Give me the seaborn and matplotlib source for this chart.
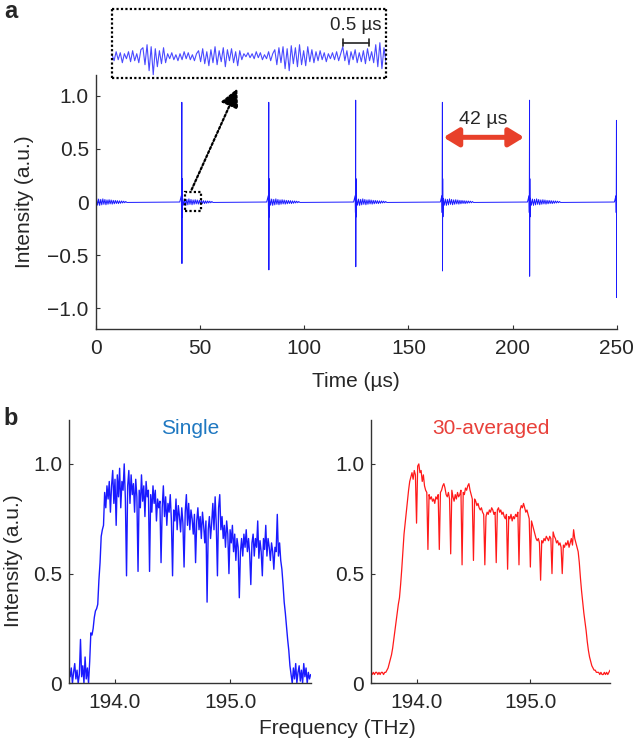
import numpy as np
import pandas as pd
import matplotlib
matplotlib.use("Agg")
import matplotlib.pyplot as plt
import seaborn as sns
from matplotlib.patches import Rectangle

# ---- panel a: pulse train ----
pulse_t = [41.3, 83.0, 124.7, 166.3, 208.1, 249.8]
pulse_top = [0.94, 0.94, 0.96, 0.94, 0.96, 0.77]
pulse_bottom = [-0.58, -0.64, -0.61, -0.65, -0.70, -0.90]
side_dt = [-0.25, -0.12, 0.14, 0.24]
side_v = [0.06, -0.10, 0.22, -0.14]
ring_v = [0.035, -0.030, 0.028, -0.032, 0.025, -0.027, 0.030, -0.022, 0.024, -0.026,
          0.020, -0.021, 0.022, -0.018, 0.019, -0.020, 0.016, -0.017, 0.015, -0.014,
          0.013, -0.015, 0.011, -0.012, 0.010, -0.009, 0.008, -0.007, 0.005, -0.004]
ring_dt = np.arange(0.4, 15.0, 0.5)

# zoomed inset trace (px offsets)
inset_v = [2, -4, 5, -3, 4, -6, 3, -2, 5, -5, 6, -4, 3, -6, 7,
           9, -8, 12, -14, 10, -18, 8, -10, 6, -7, 9, -6,
           3, -2, 4, -3, 2, -4, 3, -3, 5, -2, 4, -3, 2, -4, 3,
           6, -5, 8, -7, 5, -9, 7, -6, 10, -8, 6, -5, 9, -10, 7, -4, 8, -6, 5, -9, 6, -3,
           3, 0, 4, -1, 3, -2, 5, -1, 4, -3, 2, -2, 5, -4, 3,
           7, -8, 9, -6, 10, -12, 8, -14, 11, -7, 9, -10, 12, -8, 6, -9, 10, -5, 7, -6,
           5, -4, 6, -3, 4, -5, 3, -2, 4, -3, 5, -4, 3,
           10, -4, 6, -8, 5, -3, 7, -6, 4, -5, 6, -7, 8, -4, 5, -6, 12, -10, 14, -12, 9, -6]
inset_dt = 0.0398  # us per sample

# ---- panel b: spectra, 193.60 .. 195.70 THz in 0.01 steps ----
single = [0.06, 0.03, 0.07, 0.00, 0.05, 0.09, 0.02, 0.06, 0.00, 0.04,
          0.20, 0.03, 0.08, 0.00, 0.12, 0.02, 0.07, 0.00, 0.10, 0.23,
          0.22, 0.25, 0.30, 0.33, 0.34, 0.36, 0.47, 0.55, 0.67, 0.70,
          0.72, 0.87, 0.80, 0.90, 0.84, 0.92, 0.78, 0.90, 0.97, 0.82,
          0.93, 0.72, 0.95, 0.85, 0.98, 0.80, 0.92, 0.88, 1.00, 0.84,
          0.49, 0.90, 0.97, 0.82, 0.95, 0.86, 0.91, 0.78, 0.93, 0.85,
          0.51, 0.88, 0.80, 0.95, 0.83, 0.90, 0.76, 0.92, 0.85, 0.88,
          0.51, 0.86, 0.78, 0.90, 0.82, 0.88, 0.74, 0.84, 0.80, 0.83,
          0.55, 0.80, 0.90, 0.76, 0.85, 0.72, 0.82, 0.78, 0.86, 0.74,
          0.49, 0.79, 0.74, 0.84, 0.70, 0.81, 0.76, 0.69, 0.80, 0.73,
          0.53, 0.78, 0.86, 0.72, 0.82, 0.70, 0.79, 0.75, 0.68, 0.77,
          0.55, 0.74, 0.80, 0.70, 0.76, 0.66, 0.78, 0.72, 0.64, 0.74,
          0.37, 0.70, 0.76, 0.66, 0.73, 0.82, 0.70, 0.85, 0.72, 0.49,
          0.80, 0.86, 0.70, 0.76, 0.66, 0.72, 0.62, 0.74, 0.68, 0.50,
          0.70, 0.64, 0.72, 0.60, 0.68, 0.56, 0.66, 0.62, 0.39, 0.60,
          0.66, 0.58, 0.68, 0.62, 0.70, 0.60, 0.66, 0.59, 0.45, 0.64,
          0.68, 0.58, 0.66, 0.62, 0.74, 0.57, 0.65, 0.60, 0.49, 0.66,
          0.61, 0.72, 0.58, 0.66, 0.62, 0.56, 0.64, 0.60, 0.52, 0.62,
          0.60, 0.77, 0.58, 0.64, 0.56, 0.52, 0.45, 0.37, 0.32, 0.26,
          0.20, 0.15, 0.08, 0.04, 0.00, 0.07, 0.02, 0.09, 0.00, 0.05,
          0.08, 0.01, 0.06, 0.00, 0.09, 0.03, 0.07, 0.00, 0.05, 0.02, 0.04]
averaged = [0.05, 0.04, 0.05, 0.04, 0.05, 0.05, 0.04, 0.05, 0.04, 0.05,
            0.05, 0.04, 0.05, 0.05, 0.06, 0.07, 0.09, 0.11, 0.13, 0.16,
            0.20, 0.24, 0.28, 0.32, 0.36, 0.39, 0.45, 0.52, 0.60, 0.68,
            0.73, 0.78, 0.83, 0.88, 0.92, 0.94, 0.96, 0.93, 0.97, 0.95,
            0.73, 0.99, 1.00, 0.96, 0.97, 0.92, 0.95, 0.90, 0.88, 0.87,
            0.61, 0.86, 0.84, 0.85, 0.83, 0.84, 0.82, 0.85, 0.84, 0.86,
            0.61, 0.87, 0.88, 0.90, 0.91, 0.89, 0.86, 0.85, 0.87, 0.84,
            0.59, 0.88, 0.85, 0.83, 0.86, 0.84, 0.87, 0.85, 0.86, 0.88,
            0.54, 0.87, 0.86, 0.89, 0.88, 0.90, 0.91, 0.88, 0.86, 0.84,
            0.56, 0.84, 0.83, 0.81, 0.82, 0.80, 0.79, 0.80, 0.78, 0.77,
            0.54, 0.76, 0.78, 0.77, 0.79, 0.78, 0.80, 0.79, 0.77, 0.78,
            0.55, 0.79, 0.80, 0.78, 0.79, 0.77, 0.78, 0.76, 0.75, 0.77,
            0.52, 0.76, 0.75, 0.77, 0.74, 0.76, 0.75, 0.77, 0.76, 0.78,
            0.54, 0.79, 0.81, 0.80, 0.82, 0.80, 0.78, 0.79, 0.77, 0.75,
            0.53, 0.74, 0.72, 0.70, 0.68, 0.66, 0.65, 0.66, 0.64, 0.47,
            0.65, 0.64, 0.66, 0.65, 0.67, 0.66, 0.65, 0.67, 0.66, 0.50,
            0.69, 0.67, 0.66, 0.64, 0.65, 0.63, 0.64, 0.62, 0.50, 0.63,
            0.62, 0.64, 0.63, 0.65, 0.62, 0.64, 0.66, 0.63, 0.70, 0.66,
            0.64, 0.62, 0.60, 0.55, 0.48, 0.42, 0.37, 0.32, 0.28, 0.24,
            0.19, 0.15, 0.12, 0.10, 0.08, 0.07, 0.06, 0.06, 0.05, 0.05,
            0.05, 0.04, 0.05, 0.04, 0.04, 0.05, 0.04, 0.05, 0.04, 0.05, 0.06]
freq = np.round(193.6 + 0.01 * np.arange(len(single)), 2)

sns.set_theme(style="ticks")
plt.rcParams["font.family"] = ["Liberation Sans", "DejaVu Sans"]
plt.rcParams["axes.linewidth"] = 1.0
plt.rcParams["axes.edgecolor"] = "#333333"

FS = 15
BLUE = "#1a1aff"

# build the pulse-train line
t_pts, v_pts = [0.0], [0.0]
for dt, v in zip(ring_dt, ring_v):
    t_pts.append(dt); v_pts.append(v)
for k, p in enumerate(pulse_t):
    t_pts.append(p - 1.0); v_pts.append(0.0)
    seq = sorted(list(zip(side_dt, side_v)) + [(0.0, pulse_top[k]), (0.05, pulse_bottom[k])])
    for dt, v in seq:
        t_pts.append(p + dt); v_pts.append(v)
    for dt, v in zip(ring_dt, ring_v):
        if p + dt <= 250:
            t_pts.append(p + dt); v_pts.append(v)
trace = pd.DataFrame({"t": t_pts, "v": v_pts})

fig = plt.figure(figsize=(6.34, 7.40), dpi=100)

def style_axes(ax):
    sns.despine(ax=ax)
    ax.tick_params(direction="in", length=3, width=0.8, labelsize=FS, color="#333333")
    ax.tick_params(axis="x", pad=7)
    ax.tick_params(axis="y", pad=5)

# panel a
ax = fig.add_axes([0.151, 0.555, 0.822, 0.344])
sns.lineplot(data=trace, x="t", y="v", ax=ax, estimator=None, sort=False,
             color=BLUE, lw=0.7)
ax.set_xlim(0, 250)
ax.set_ylim(-1.2, 1.2)
ax.set_xticks([0, 50, 100, 150, 200, 250])
ax.set_yticks([-1.0, -0.5, 0, 0.5, 1.0])
ax.set_yticklabels(["\u22121.0", "\u22120.5", "0", "0.5", "1.0"])
style_axes(ax)
ax.set_xlabel("Time (\u00b5s)", fontsize=FS)
ax.set_ylabel("Intensity (a.u.)", fontsize=FS)
ax.xaxis.set_label_coords(0.5, -0.168)
ax.yaxis.set_label_coords(-0.118, 0.5)

ax.add_patch(Rectangle((42.9, -0.088), 7.5, 0.178, fill=False, ec="black",
                       lw=1.6, ls=(0, (1, 1)), zorder=5))
ax.annotate("", xy=(67.9, 1.07), xytext=(46.0, 0.117), annotation_clip=False,
            arrowprops=dict(arrowstyle="-|>,head_length=0.8,head_width=0.4",
                            lw=1.6, ls=(0, (1, 1)), color="black",
                            shrinkA=0, shrinkB=0, mutation_scale=14))
ax.annotate("", xy=(205.5, 0.61), xytext=(166.8, 0.61),
            arrowprops=dict(arrowstyle="<|-|>,head_length=0.9,head_width=0.55",
                            lw=3.6, color="#e8402a", shrinkA=0, shrinkB=0,
                            mutation_scale=10))
ax.text(185.7, 0.78, "42 \u00b5s", fontsize=14, ha="center", va="center")

# zoom inset
ins = fig.add_axes([0.1767, 0.8946, 0.4322, 0.0932])
inset_t = np.arange(len(inset_v)) * inset_dt
sns.lineplot(x=inset_t, y=inset_v, ax=ins, estimator=None, sort=False,
             color="#4a4aff", lw=0.8)
ins.set_xlim(inset_t[0], inset_t[-1])
ins.set_ylim(-21.3, 47.7)
ins.set_xticks([])
ins.set_yticks([])
for sp in ins.spines.values():
    sp.set_visible(True)
    sp.set_linestyle((0, (1, 1)))
    sp.set_capstyle("butt")
    sp.set_linewidth(1.6)
    sp.set_edgecolor("black")
ins.plot([4.47, 4.97], [14, 14], color="#222222", lw=1.2)
ins.plot([4.47, 4.47], [10.5, 17.5], color="#222222", lw=1.2)
ins.plot([4.97, 4.97], [10.5, 17.5], color="#222222", lw=1.2)
ins.text(4.71, 31.7, "0.5 \u00b5s", fontsize=13.5, ha="center", va="center")

# panel b
specs = [("Single", single, BLUE, "#1f78c1", [0.1088, 0.0766, 0.3812, 0.3558]),
         ("30-averaged", averaged, "#ff1a1a", "#e8403a", [0.5852, 0.0766, 0.377, 0.3558])]
for k, (title, vals, lc, tc, pos) in enumerate(specs):
    bx = fig.add_axes(pos)
    sns.lineplot(x=freq, y=vals, ax=bx, estimator=None, sort=False,
                 color=lc, lw=1.0 if k == 0 else 0.9)
    bx.set_xlim(193.6, 195.7)
    bx.set_ylim(0, 1.2)
    bx.set_xticks([194.0, 195.0])
    bx.set_xticklabels(["194.0", "195.0"])
    bx.set_yticks([0, 0.5, 1.0])
    bx.set_yticklabels(["0", "0.5", "1.0"])
    style_axes(bx)
    bx.text(0.5, 0.966, title, transform=bx.transAxes, color=tc,
            fontsize=FS, ha="center", va="center")
    if k == 0:
        bx.set_ylabel("Intensity (a.u.)", fontsize=FS)
        bx.yaxis.set_label_coords(-0.19, 0.464)

fig.text(337 / 634, 1 - 728 / 740, "Frequency (THz)", fontsize=FS,
         ha="center", va="center")
fig.text(0.006, 0.984, "a", fontsize=17, fontweight="bold", va="center")
fig.text(0.006, 0.435, "b", fontsize=17, fontweight="bold", va="center")

fig.savefig("out.png", dpi=100)
